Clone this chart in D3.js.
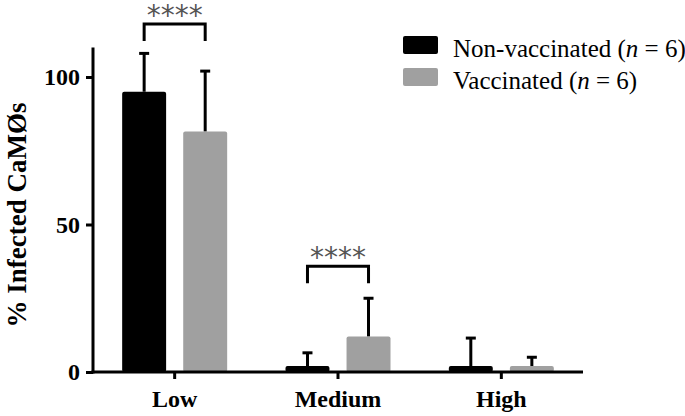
<!DOCTYPE html>
<html><head><meta charset="utf-8">
<script src="https://cdn.jsdelivr.net/npm/d3@7"></script>
<style>body{margin:0;background:#fff}svg{display:block}
.serif{font-family:"Liberation Serif","DejaVu Serif","Times New Roman",serif}</style>
</head><body>
<svg id="c" width="685" height="416"></svg>
<script>
const categories = ["Low", "Medium", "High"];
const seriesNames = ["Non-vaccinated", "Vaccinated"];
const seriesN = [6, 6];
const nonVaccMean = [95, 2, 2];
const nonVaccErr = [13, 4.5, 9.5];
const vaccMean = [81.5, 12, 2];
const vaccErr = [20.5, 13, 3];
const yTicks = [0, 50, 100];
const sigPairs = [{cat: "Low", label: "****"}, {cat: "Medium", label: "****"}];

const colors = ["#000000", "#a0a0a0"];
const svg = d3.select("#c");
const x0 = 93, x1 = 583, yBase = 372;

const y = d3.scaleLinear().domain([0, 100]).range([yBase, 77]);
const x = d3.scaleBand().domain(categories).range([x0, x1]).paddingInner(0).paddingOuter(0);
const xs = d3.scaleBand().domain(seriesNames).range([-52.5, 52.5]).paddingInner(0.28);

const means = [nonVaccMean, vaccMean];
const errs = [nonVaccErr, vaccErr];

// bars
seriesNames.forEach((s, si) => {
  const g = svg.append("g");
  categories.forEach((c, ci) => {
    const bx = x(c) + x.bandwidth()/2 + xs(s);
    const bw = xs.bandwidth();
    const cx = bx + bw/2;
    const top = y(means[si][ci] + errs[si][ci]);
    g.append("line").attr("x1", cx).attr("x2", cx)
      .attr("y1", y(means[si][ci])).attr("y2", top)
      .attr("stroke", "#000").attr("stroke-width", 3);
    g.append("line").attr("x1", cx - 5).attr("x2", cx + 5)
      .attr("y1", top).attr("y2", top)
      .attr("stroke", "#000").attr("stroke-width", 3);
    g.append("rect").attr("x", bx).attr("width", bw)
      .attr("y", y(means[si][ci])).attr("height", yBase - y(means[si][ci]))
      .attr("rx", 2).attr("fill", colors[si]);
  });
});

// y axis
const yAxis = d3.axisLeft(y).tickValues(yTicks).tickSize(7).tickPadding(6).tickFormat(d3.format("d"));
const ga = svg.append("g").attr("transform", `translate(${x0},0)`).call(yAxis);
ga.attr("font-family", null).attr("font-size", null);
ga.select(".domain").remove();
ga.append("line").attr("x1", 0).attr("x2", 0).attr("y1", y(110)).attr("y2", yBase + 1.5)
  .attr("stroke", "#000").attr("stroke-width", 3);
ga.selectAll(".tick line").attr("stroke-width", 3);
ga.selectAll(".tick text").attr("class", "serif").style("font-size", "24px").style("font-weight", "bold").attr("fill", "#000");

// x axis
const xAxis = d3.axisBottom(x).tickSize(7).tickPadding(11);
const gx = svg.append("g").attr("transform", `translate(0,${yBase})`).call(xAxis);
gx.attr("font-family", null).attr("font-size", null);
gx.select(".domain").remove();
gx.append("line").attr("x1", x0 - 1.5).attr("x2", x1).attr("y1", 0).attr("y2", 0)
  .attr("stroke", "#000").attr("stroke-width", 3);
gx.selectAll(".tick line").attr("stroke-width", 3);
gx.selectAll(".tick text").attr("class", "serif").style("font-size", "24px").style("font-weight", "bold").attr("fill", "#000");

// y title
svg.append("text").attr("class", "serif").attr("transform", `translate(26,215) rotate(-90)`)
  .attr("text-anchor", "middle").style("font-size", "27px")
  .style("font-weight", "bold").text("% Infected CaMØs");

// significance brackets
sigPairs.forEach(p => {
  const ci = categories.indexOf(p.cat);
  const xa = x(p.cat) + x.bandwidth()/2 + xs(seriesNames[0]) + xs.bandwidth()/2;
  const xb = x(p.cat) + x.bandwidth()/2 + xs(seriesNames[1]) + xs.bandwidth()/2;
  const top = Math.max(means[0][ci] + errs[0][ci], means[1][ci] + errs[1][ci]);
  let yb = y(top) - 15, yt = yb - 17;
  if (ci === 0) { yb = 41; yt = 24; }
  svg.append("path").attr("d", `M${xa},${yb}V${yt}H${xb}V${yb}`)
    .attr("fill", "none").attr("stroke", "#000").attr("stroke-width", 3);
  svg.append("text").attr("x", (xa + xb)/2).attr("y", yt + 1).attr("text-anchor", "middle")
    .style("font-family", "'DejaVu Sans',sans-serif").style("font-size", "28px").attr("fill", "#555")
    .text(p.label);
});

// legend
const lg = svg.append("g");
seriesNames.forEach((s, i) => {
  const ly = 36 + i * 32;
  lg.append("rect").attr("x", 403).attr("y", ly).attr("width", 35).attr("height", 18)
    .attr("rx", 2).attr("fill", colors[i]);
  const t = lg.append("text").attr("class", "serif").attr("x", 453).attr("y", ly + 21)
    .style("font-size", "25px").attr("fill", "#000");
  t.append("tspan").text(s + " (");
  t.append("tspan").style("font-style", "italic").text("n");
  t.append("tspan").text(" = " + seriesN[i] + ")");
});
</script>
</body></html>
